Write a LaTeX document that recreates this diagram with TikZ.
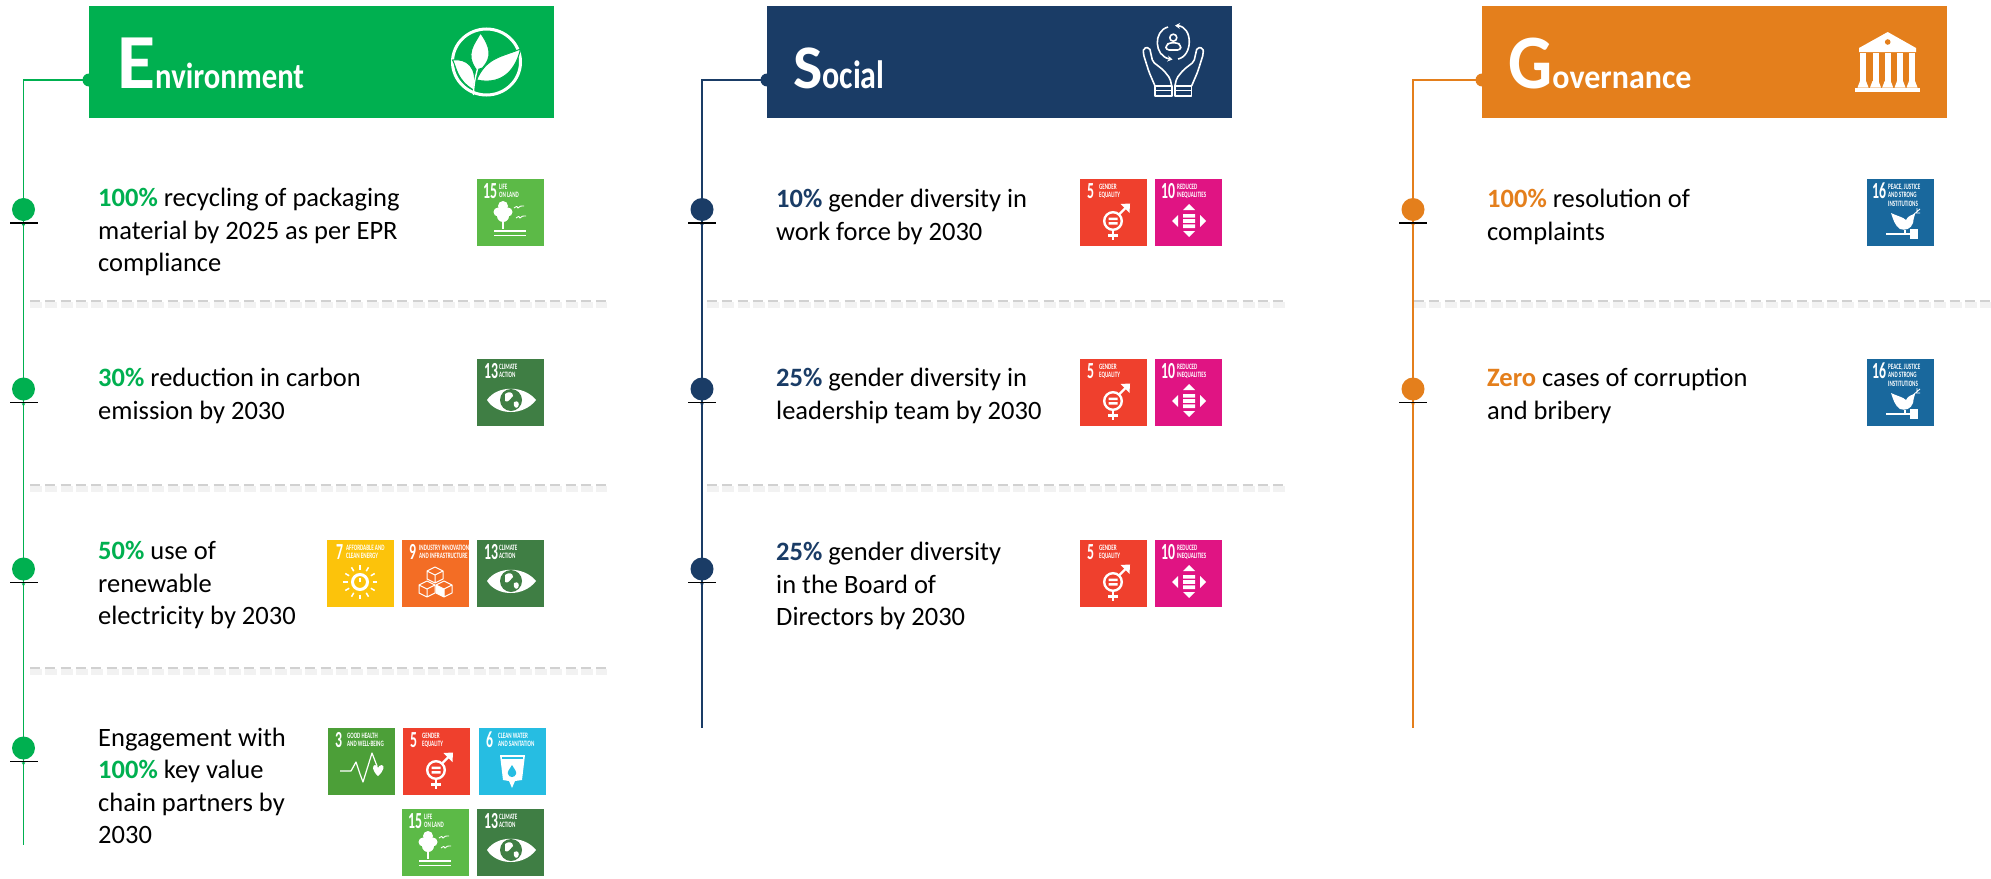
\documentclass[tikz,border=0pt]{standalone}
\usepackage{graphicx}
\usepackage{fontspec}
\setmainfont{Carlito}
\usetikzlibrary{arrows.meta,calc}
\definecolor{envc}{HTML}{00B050}
\definecolor{socc}{HTML}{1A3C66}
\definecolor{govc}{HTML}{E47F1C}
\definecolor{cIII}{HTML}{4C9F38}
\definecolor{cV}{HTML}{EF402D}
\definecolor{cVI}{HTML}{26BDE2}
\definecolor{cVII}{HTML}{FCC30B}
\definecolor{cIX}{HTML}{F36D25}
\definecolor{cX}{HTML}{E01483}
\definecolor{cXIII}{HTML}{3F7E44}
\definecolor{cXV}{HTML}{5CBA47}
\definecolor{cXVI}{HTML}{19689D}
\tikzset{
  head/.style={rectangle,minimum width=465,minimum height=112,inner sep=0,outer sep=0},
  port/.style={circle,minimum size=13,inner sep=0,outer sep=0},
  bullet/.style={circle,minimum size=23,inner sep=0,outer sep=0},
  tick/.style={rectangle,fill=black,minimum width=28,minimum height=1.5,inner sep=0,outer sep=0},
  spine/.style={line width=1.8},
  title/.style={anchor=base west,text=white,inner sep=0,font=\bfseries},
  item/.style={anchor=west,align=left,inner sep=0,text=black,font=\fontsize{26.5}{32.5}\selectfont},
  tile/.style={rectangle,minimum size=67,inner sep=0,outer sep=0},
  tilenum/.style={anchor=north west,inner sep=0,text=white,xscale=.6,font=\bfseries\fontsize{23}{23}\selectfont},
  tilelab/.style={anchor=north west,inner sep=0,text=white,xscale=.62,align=left,font=\bfseries\fontsize{8.2}{8.4}\selectfont},
  glyph/.style={white,line width=1.4},
  sepa/.style={color=black!18,line width=2.4,dash pattern=on 10 off 5.3},
  sepb/.style={color=black!5,line width=6,dash pattern=on 12 off 3.3},
}
\newcommand\sepline[3]{%
  \draw[sepb] (#1,#3+4) -- (#2,#3+4);
  \draw[sepa] (#1,#3) -- (#2,#3);}
\newcommand\sdg[8]{%
  \node[tile,fill=#4] (#1) at (#2+33.5,#3+33.5) {};
  \node[tilenum] (#1n) at ($(#1.north west)+(#6,4)$) {#5};
  \node[tilelab] (#1l) at ($(#1.north west)+(#7,5)$) {#8};
}
\newcommand\gEye[1]{\begin{scope}[shift={(#1.north west)}]
  \fill[white] (10,41) .. controls (20,26) and (47,26) .. (59,41) .. controls (47,57) and (20,57) .. cycle;
  \fill[cXIII] (34,41) circle (11);
  \fill[white] (28,35) .. controls (32,32) and (36,33) .. (36,37) .. controls (33,40) and (31,44) .. (28,42) -- cycle;
  \fill[white] (37,43) .. controls (41,41) and (43,44) .. (41,48) .. controls (39,50) and (36,48) .. cycle;
\end{scope}}
\newcommand\gTree[1]{\begin{scope}[shift={(#1.north west)}]
  \fill[white] (26,27) circle (5) (21,33) circle (4.5) (31,33) circle (4.5) (26,37) circle (6);
  \draw[glyph] (26,40) -- (26,50);
  \draw[glyph] (17,52) -- (49,52) (17,56.5) -- (49,56.5);
  \draw[white,line width=.9] (37,29) .. controls (40,27) .. (41,29) .. controls (43,27) .. (47,27);
  \draw[white,line width=.9] (39,39) .. controls (42,37) .. (43,39) .. controls (45,37) .. (49,37);
\end{scope}}
\newcommand\gSun[1]{\begin{scope}[shift={(#1.north west)}]
  \draw[white,line width=3] (33,42) circle (7.5);
  \draw[white,line width=1.1] (33,38) -- (33,42);
  \foreach \a in {0,30,...,330}{\draw[white,line width=1.5] ($(33,42)+(\a:12.5)$) -- ($(33,42)+(\a:17)$);}
\end{scope}}
\newcommand\gCube[3]{%
  \draw[white,line width=1,line join=round] (#1,#2-8) -- (#1+8,#2-4) -- (#1+8,#2+4) -- (#1,#2+8) -- (#1-8,#2+4) -- (#1-8,#2-4) -- cycle
    (#1-8,#2-4) -- (#1,#2) -- (#1+8,#2-4) (#1,#2) -- (#1,#2+8);
  #3}
\newcommand\gCubes[1]{\begin{scope}[shift={(#1.north west)}]
  \gCube{33}{35}{}\gCube{25}{49}{}\gCube{42}{49}{\fill[white] (42,49) -- (42,57) -- (34,53) -- (34,45) -- cycle;}
\end{scope}}
\newcommand\gGender[1]{\begin{scope}[shift={(#1.north west)}]
  \draw[white,line width=2.4] (33,42) circle (8.8);
  \fill[white] (28.5,38.5) rectangle (37.5,41) (28.5,43) rectangle (37.5,45.5);
  \draw[white,line width=2.4] (39,35.5) -- (48,26.5);
  \fill[white] (50,24.5) -- (40.5,25) -- (49.5,34) -- cycle;
  \draw[white,line width=2.4] (33,51) -- (33,61) (28,56.5) -- (38,56.5);
\end{scope}}
\newcommand\gIneq[1]{\begin{scope}[shift={(#1.north west)}]
  \fill[white] (34,25) -- (40,31) -- (28,31) -- cycle (34,58) -- (40,52) -- (28,52) -- cycle;
  \fill[white] (17,42) -- (23,36) -- (23,48) -- cycle (51,42) -- (45,36) -- (45,48) -- cycle;
  \fill[white] (28,35) rectangle (40,38.6) (28,40.2) rectangle (40,43.8) (28,45.4) rectangle (40,49);
\end{scope}}
\newcommand\gDove[1]{\begin{scope}[shift={(#1.north west)}]
  \fill[white] (24,34) .. controls (30,37) and (36,38) .. (39,41) .. controls (41,37) and (44,36) .. (48,35) .. controls (47,39) and (46,41) .. (46,44) .. controls (44,50) and (38,52) .. (33,50) .. controls (28,47) and (26,40) .. cycle;
  \draw[white,line width=.9] (46,36) -- (53,30) (49,34) -- (53,34) (50,32) -- (50,29);
  \draw[white,line width=1.6] (19,55) -- (44,55);
  \fill[white] (37,51) rectangle (39,54);
  \fill[white] (43,50) rectangle (51,60);
\end{scope}}
\newcommand\gPulse[1]{\begin{scope}[shift={(#1.north west)}]
  \draw[white,line width=1.2,line join=round] (12,43) -- (23,43) -- (28,34) -- (32,46) -- (35,54) -- (44,25) -- (49,38);
  \fill[white] (50,48) .. controls (44,43) and (44,37) .. (47,37) .. controls (49,37) and (50,39) .. (50,40) .. controls (50,39) and (52,37) .. (53.5,37) .. controls (57,37) and (56,43) .. (50,48);
\end{scope}}
\newcommand\gWater[1]{\begin{scope}[shift={(#1.north west)}]
  \fill[white] (21,27) -- (46,27) -- (43,52) -- (36,53) -- (33,60) -- (30,53) -- (24,52) -- cycle;
  \fill[cVI] (23,29) rectangle (44,31);
  \fill[cVI] (33,37) .. controls (36,42) and (38,44) .. (37,46) .. controls (36,50) and (30,50) .. (29,46) .. controls (28,44) and (30,42) .. cycle;
\end{scope}}
\newcommand\sdgIII[3]{\sdg{#1}{#2}{#3}{cIII}{3}{7}{19}{GOOD HEALTH\\AND WELL-BEING}\gPulse{#1}}
\newcommand\sdgV[3]{\sdg{#1}{#2}{#3}{cV}{5}{7}{19}{GENDER\\EQUALITY}\gGender{#1}}
\newcommand\sdgVI[3]{\sdg{#1}{#2}{#3}{cVI}{6}{7}{19}{CLEAN WATER\\AND SANITATION}\gWater{#1}}
\newcommand\sdgVII[3]{\sdg{#1}{#2}{#3}{cVII}{7}{9}{19}{AFFORDABLE AND\\CLEAN ENERGY}\gSun{#1}}
\newcommand\sdgIX[3]{\sdg{#1}{#2}{#3}{cIX}{9}{7}{17}{INDUSTRY INNOVATION\\AND INFRASTRUCTURE}\gCubes{#1}}
\newcommand\sdgX[3]{\sdg{#1}{#2}{#3}{cX}{10}{6}{22}{REDUCED\\INEQUALITIES}\gIneq{#1}}
\newcommand\sdgXIII[3]{\sdg{#1}{#2}{#3}{cXIII}{13}{7}{22}{CLIMATE\\ACTION}\gEye{#1}}
\newcommand\sdgXV[3]{\sdg{#1}{#2}{#3}{cXV}{15}{6}{22}{LIFE\\ON LAND}\gTree{#1}}
\newcommand\sdgXVI[3]{\sdg{#1}{#2}{#3}{cXVI}{16}{5}{21}{PEACE, JUSTICE\\AND STRONG\\INSTITUTIONS}\gDove{#1}}
\newcommand\bul[3]{%
  \node[bullet,fill=#3] (#1) at (#2) {};
  \node[tick] (#1t) at ($(#1.center)+(0,13.5)$) {};
  \fill[#3] ($(#1t.center)+(-1.8,.8)$) -- ($(#1t.center)+(1.8,.8)$) -- ($(#1t.center)+(0,4)$) -- cycle;}
\begin{document}
\begin{tikzpicture}[x=1pt,y=-1pt]
\useasboundingbox (0,0) rectangle (1991,878);
\fill[white] (0,0) rectangle (1991,878);

% separators
\sepline{30}{607}{301}\sepline{30}{607}{485}\sepline{30}{607}{668}
\sepline{707}{1285}{301}\sepline{707}{1285}{485}
\sepline{1414}{1991}{301}

% headers
\node[head,fill=envc] (ehead) at (321.5,62) {};
\node[head,fill=socc] (shead) at (999,62) {};
\node[head,fill=govc] (ghead) at (1714,62) {};
\node[port,fill=envc] (eport) at (89,80) {};
\node[port,fill=socc] (sport) at (767,80) {};
\node[port,fill=govc] (gport) at (1482,80) {};
\node[title] (etitle) at (117,88) {\fontsize{78}{78}\selectfont E\fontsize{33}{33}\selectfont\scalebox{.93}[1.1]{nvironment}};
\node[title] (stitle) at (793,88.5) {\fontsize{62}{62}\selectfont S\fontsize{33}{33}\selectfont\scalebox{.97}[1.2]{ocial}};
\node[title] (gtitle) at (1508,88) {\fontsize{77}{77}\selectfont\scalebox{.9}[1]{G}\fontsize{33}{33}\selectfont\scalebox{.97}[1.02]{overnance}};

% spines
\coordinate (eend) at (23.5,845);
\coordinate (send) at (702,728);
\coordinate (gend) at (1413,728);
\draw[spine,envc] (eport.center) -| (eend);
\draw[spine,socc] (sport.center) -| (send);
\draw[spine,govc] (gport.center) -| (gend);

% bullets
\bul{ea}{23.5,209.5}{envc}\bul{eb}{23.5,389}{envc}\bul{ec}{23.5,569}{envc}\bul{ed}{23.5,748}{envc}
\bul{sa}{702,209.5}{socc}\bul{sb}{702,389}{socc}\bul{sc}{702,569}{socc}
\bul{ga}{1413,209.5}{govc}\bul{gb}{1413,389}{govc}

% items
\node[item] (t1) at (98,232) {\textbf{\textcolor{envc}{100\%}} recycling of packaging\\material by 2025 as per EPR\\compliance};
\node[item] (t2) at (98,396) {\textbf{\textcolor{envc}{30\%}} reduction in carbon\\emission by 2030};
\node[item] (t3) at (98,585) {\textbf{\textcolor{envc}{50\%}} use of\\renewable\\electricity by 2030};
\node[item] (t4) at (98,786) {Engagement with\\\textbf{\textcolor{envc}{100\%}} key value\\chain partners by\\2030};
\node[item] (t5) at (776,217) {\textbf{\textcolor{socc}{10\%}} gender diversity in\\work force by 2030};
\node[item] (t6) at (776,396) {\textbf{\textcolor{socc}{25\%}} gender diversity in\\leadership team by 2030};
\node[item] (t7) at (776,586) {\textbf{\textcolor{socc}{25\%}} gender diversity\\in the Board of\\Directors by 2030};
\node[item] (t8) at (1487,217) {\textbf{\textcolor{govc}{100\%}} resolution of\\complaints};
\node[item] (t9) at (1487,396) {\textbf{\textcolor{govc}{Zero}} cases of corruption\\and bribery};

% tiles
\sdgXV{ia}{477}{179}
\sdgXIII{ib}{477}{359}
\sdgVII{ic}{327}{540}\sdgIX{id}{402}{540}\sdgXIII{ie}{477}{540}
\sdgIII{if}{328}{728}\sdgV{ig}{403}{728}\sdgVI{ih}{479}{728}
\sdgXV{ii}{402}{809}\sdgXIII{ij}{477}{809}
\sdgV{ik}{1080}{179}\sdgX{il}{1155}{179}
\sdgV{im}{1080}{359}\sdgX{in}{1155}{359}
\sdgV{io}{1080}{540}\sdgX{ip}{1155}{540}
\sdgXVI{iq}{1867}{179}
\sdgXVI{ir}{1867}{359}

% leaf emblem
\begin{scope}[shift={(486.5,62)}]
  \draw[white,line width=3] (0,0) ellipse (34 and 33);
  \fill[white,draw=envc,line width=1] (-10,8) .. controls (-22,-8) and (-12,-18) .. (-6,-29) .. controls (4,-15) and (6,-5) .. (-4,6) -- cycle;
  \fill[white,draw=envc,line width=1] (-10,18) .. controls (0,-5) and (15,-5) .. (34,-13) .. controls (30,5) and (18,24) .. (-10,18) -- cycle;
  \fill[white,draw=envc,line width=1] (-13,28) .. controls (-30,18) and (-30,5) .. (-34,-2) .. controls (-20,-4) and (-8,5) .. (-13,28) -- cycle;
  \draw[white,line width=1.4] (-13,33) .. controls (-13,22) and (-11,15) .. (-9,7);
\end{scope}

% hands emblem
\begin{scope}[white,line width=1.6,line join=round]
  \draw[-{Stealth[length=5,width=6]}] (1178,59) .. controls (1193,56) and (1193,27) .. (1175,25.5);
  \draw[-{Stealth[length=5,width=6]}] (1168,27) .. controls (1153,31) and (1154,56) .. (1172.5,59.5);
  \draw (1173.3,37.7) circle (3.5);
  \draw[rounded corners=3] (1166,50) -- (1166,45) -- (1170,42.7) -- (1177,42.7) -- (1180.7,45) -- (1180.7,50) -- cycle;
  \draw[rounded corners=2] (1155,86) -- (1149,72) -- (1143.3,54) -- (1143.5,48) -- (1149.5,47.5) -- (1152.7,61.7) -- (1163.3,70) -- (1170,78.3) -- (1171.7,86);
  \draw (1155,86) rectangle (1171.7,96) (1155,90.5) -- (1171.7,90.5);
  \draw[rounded corners=2] (1191.6,86) -- (1197.6,72) -- (1203.3,54) -- (1203.1,48) -- (1197.1,47.5) -- (1193.9,61.7) -- (1183.3,70) -- (1176.6,78.3) -- (1174.9,86);
  \draw (1174.9,86) rectangle (1191.6,96) (1174.9,90.5) -- (1191.6,90.5);
\end{scope}

% temple emblem
\fill[white] (1887.7,32) -- (1916,48) -- (1916,52) -- (1859,52) -- (1859,48) -- cycle;
\fill[govc] (1887.7,42) circle (2.8);
\foreach \cx in {1863,1875.5,1887.7,1900,1912}{
  \fill[white] (\cx-3,53) rectangle (\cx+3,82);
  \fill[white] (\cx-3,81) -- (\cx+3,81) -- (\cx+5.5,87.5) -- (\cx-5.5,87.5) -- cycle;
}
\fill[white] (1855,88) rectangle (1920,92);
\end{tikzpicture}
\end{document}
